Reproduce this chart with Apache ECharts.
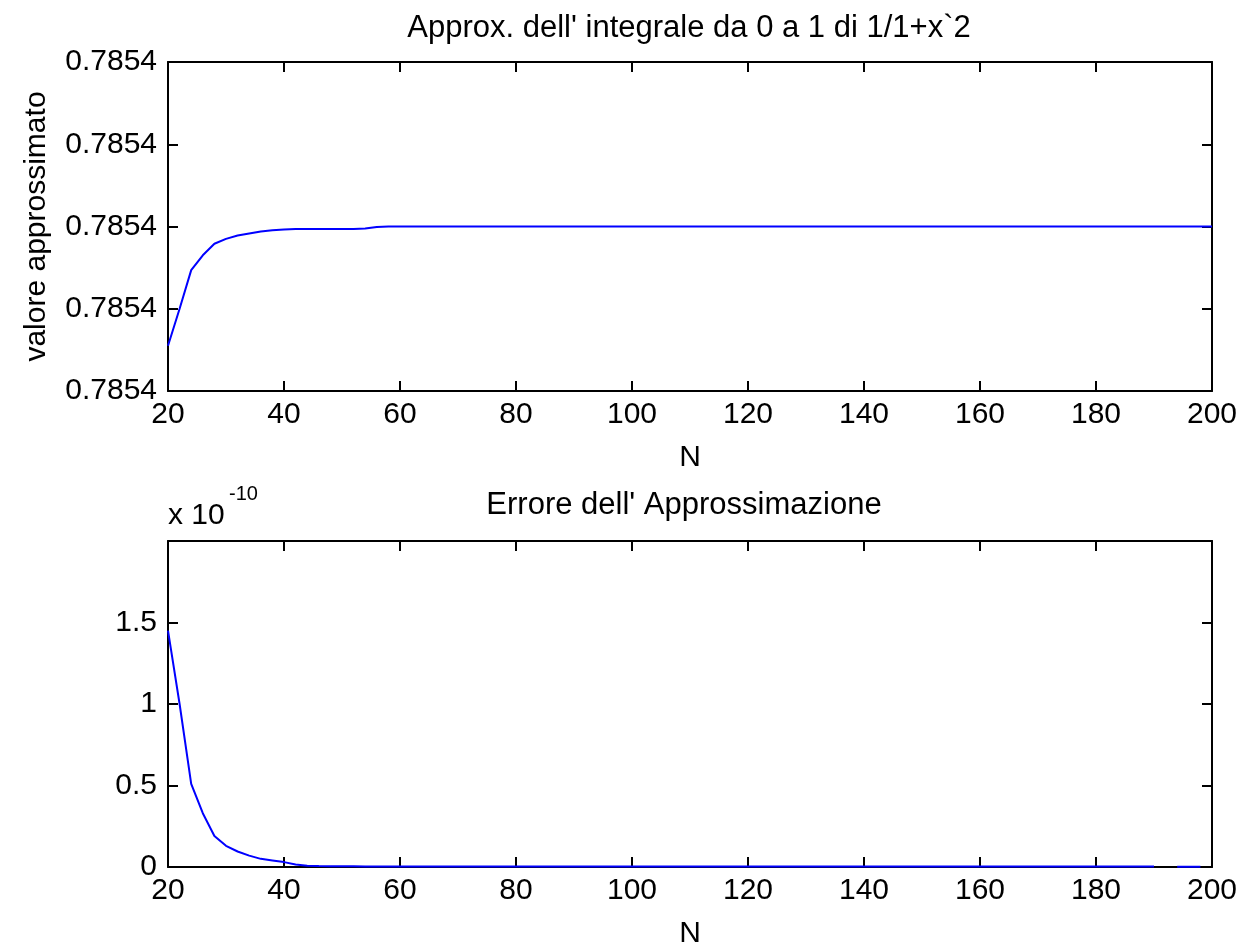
<!DOCTYPE html>
<html>
<head>
<meta charset="utf-8">
<script src="https://cdn.jsdelivr.net/npm/echarts@6/dist/echarts.min.js"></script>
<style>
html,body{margin:0;padding:0;background:#fff;}
#chart{width:1243px;height:952px;}
</style>
</head>
<body>
<div id="chart"></div>
<script>
// ---- data ----
const N = [20,22,24,26,28,30,32,34,36,38,40,42,44,46,48,50,52,54,56,58,
  60,62,64,66,68,70,72,74,76,78,80,82,84,86,88,90,92,94,96,98,
  100,102,104,106,108,110,112,114,116,118,120,122,124,126,128,130,132,134,136,138,
  140,142,144,146,148,150,152,154,156,158,160,162,164,166,168,170,172,174,176,178,
  180,182,184,186,188,190,192,194,196,198,200];

// top plot: approximation, offset from 0.7854 (pi/4) in units of 1e-10
const approxOffset = [-1.45,-1.00,-0.53,-0.35,-0.21,-0.15,-0.11,-0.085,-0.06,-0.045,
  -0.035,-0.03,-0.03,-0.03,-0.03,-0.03,-0.03,-0.025,-0.005,0,
  0,0,0,0,0,0,0,0,0,0, 0,0,0,0,0,0,0,0,0,0,
  0,0,0,0,0,0,0,0,0,0, 0,0,0,0,0,0,0,0,0,0,
  0,0,0,0,0,0,0,0,0,0, 0,0,0,0,0,0,0,0,0,0,
  0,0,0,0,0,0,0,0,0,0,0];

// bottom plot: error (x 1e-10)
const errValues = [1.45,1.00,0.51,0.33,0.19,0.13,0.095,0.07,0.05,0.04,
  0.03,0.015,0.008,0.006,0.005,0.004,0.004,0.003,0.003,0.003,
  0.003,0.003,0.003,0.003,0.003,0.003,0.003,0.003,0.003,0.003,
  0.003,0.003,0.003,0.003,0.003,0.003,0.003,0.003,0.003,0.003,
  0.003,0.003,0.003,0.003,0.003,0.003,0.003,0.003,0.003,0.003,
  0.003,0.003,0.003,0.003,0.003,0.003,0.003,0.003,0.003,0.003,
  0.003,0.003,0.003,0.003,0.003,0.003,0.003,0.003,0.003,0.003,
  0.003,0.003,0.003,0.003,0.003,0.003,0.003,0.003,0.003,0.003,
  0.003,0.003,0.003,0.003,0.003,0.003,null,0.002,0.002,0.002,null];

const topYTickLabels = ['0.7854','0.7854','0.7854','0.7854','0.7854'];
const bottomYTickLabels = ['0','0.5','1','1.5',''];
const xTickLabels = ['20','40','60','80','100','120','140','160','180','200'];

const title1 = "Approx. dell' integrale da 0 a 1 di 1/1+x`2";
const title2 = "Errore dell' Approssimazione";

// ---- chart ----
const FONT = "'Liberation Sans', Arial, Helvetica, sans-serif";
const LBL = {color:'#000', fontSize:30, fontFamily:FONT};
const chart = echarts.init(document.getElementById('chart'), null, {renderer:'canvas'});

function xAxes(gi){
  const base = {type:'value', gridIndex:gi, min:20, max:200, interval:20,
    splitLine:{show:false},
    axisLine:{show:true, onZero:false, lineStyle:{color:'#000', width:2}},
    axisTick:{show:true, inside:true, length:10, lineStyle:{color:'#000', width:2}}};
  return [
    Object.assign({}, base, {position:'bottom',
      axisLabel:Object.assign({margin:9, formatter:v=>xTickLabels[Math.round((v-20)/20)] ?? ''}, LBL),
      name:'N', nameLocation:'middle', nameGap:52, nameTextStyle:LBL}),
    Object.assign({}, base, {position:'top', axisLabel:{show:false}})
  ];
}
function yAxes(gi, min, max, interval, labels){
  const base = {type:'value', gridIndex:gi, min:min, max:max, interval:interval,
    splitLine:{show:false},
    axisLine:{show:true, onZero:false, lineStyle:{color:'#000', width:2}},
    axisTick:{show:true, inside:true, length:10, lineStyle:{color:'#000', width:2}}};
  return [
    Object.assign({}, base, {position:'left',
      axisLabel:Object.assign({margin:11, formatter:v=>labels[Math.round((v-min)/interval)] ?? ''}, LBL)}),
    Object.assign({}, base, {position:'right', axisLabel:{show:false}})
  ];
}

const xa = xAxes(0).concat(xAxes(1));
const ya0 = yAxes(0,-2,2,1,topYTickLabels);
ya0[0].name = 'valore approssimato';
ya0[0].nameLocation = 'middle';
ya0[0].nameGap = 116;
ya0[0].nameTextStyle = LBL;
const ya = ya0.concat(yAxes(1,0,2,0.5,bottomYTickLabels));

const option = {
  animation:false,
  backgroundColor:'#fff',
  grid:[
    {left:168, top:62, width:1044, height:329},
    {left:168, top:541, width:1044, height:326}
  ],
  xAxis:xa,
  yAxis:ya,
  graphic:[
    {type:'text', x:689, y:28, style:{text:title1, font:'31px '+FONT, fill:'#000', textAlign:'center', textVerticalAlign:'middle'}},
    {type:'text', x:684, y:505, style:{text:title2, font:'31px '+FONT, fill:'#000', textAlign:'center', textVerticalAlign:'middle'}},
    {type:'text', x:168, y:516, style:{text:'x 10', font:'30px '+FONT, fill:'#000', textAlign:'left', textVerticalAlign:'middle'}},
    {type:'text', x:229, y:494, style:{text:'-10', font:'20px '+FONT, fill:'#000', textAlign:'left', textVerticalAlign:'middle'}}
  ],
  series:[
    {type:'line', xAxisIndex:0, yAxisIndex:0, data:N.map((n,i)=>[n, approxOffset[i]]),
      showSymbol:false, lineStyle:{color:'#0000ff', width:2}, itemStyle:{color:'#0000ff'}, z:5},
    {type:'line', xAxisIndex:2, yAxisIndex:2, data:N.map((n,i)=>[n, errValues[i]]),
      showSymbol:false, connectNulls:false, lineStyle:{color:'#0000ff', width:2}, itemStyle:{color:'#0000ff'}, z:5}
  ]
};
chart.setOption(option);
</script>
</body>
</html>
